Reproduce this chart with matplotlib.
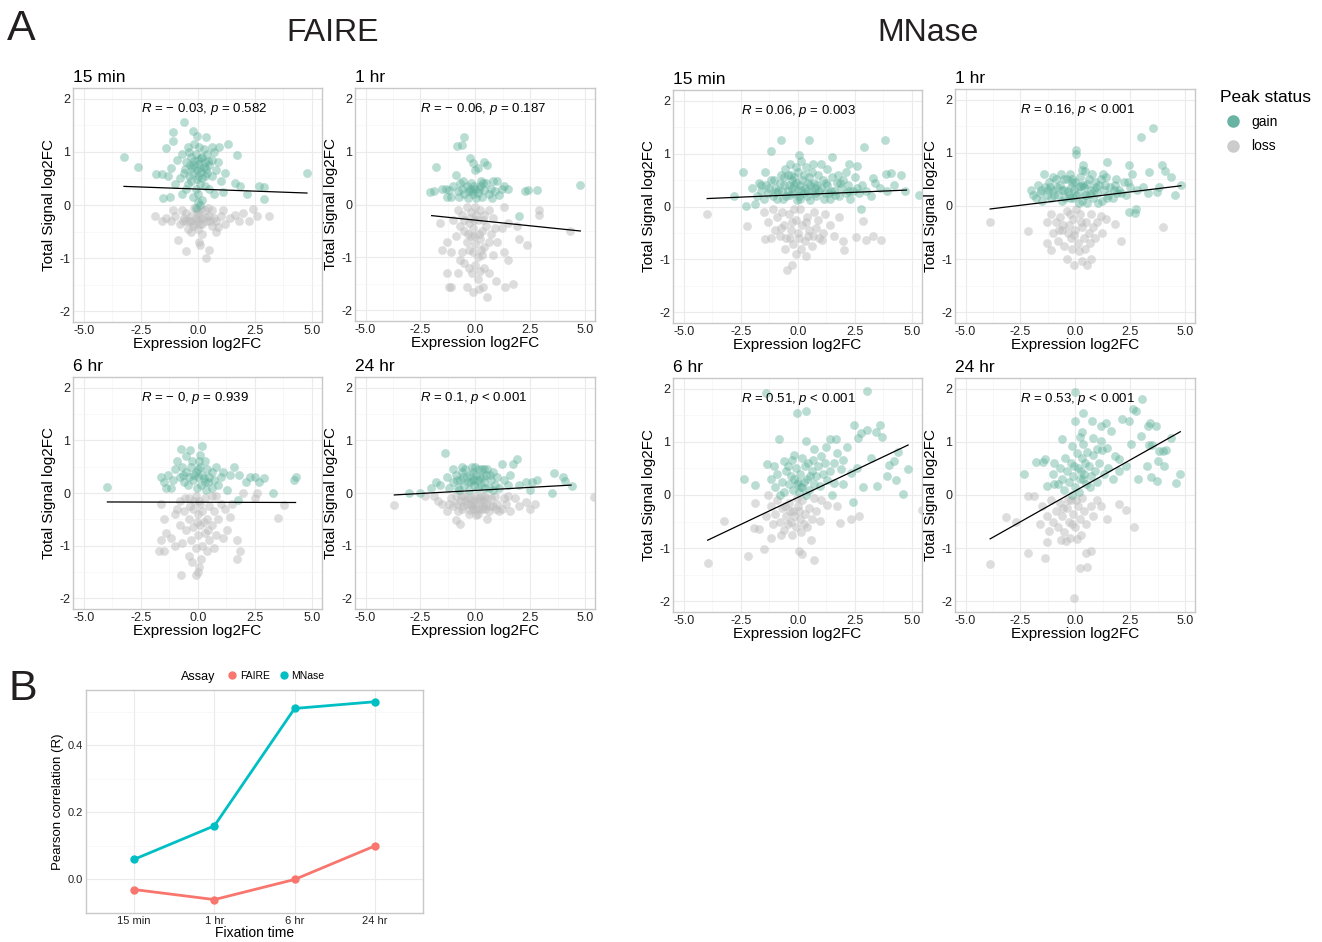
# Expression vs total signal scatter panels (A) and correlation summary (B)
import matplotlib
matplotlib.use("Agg")
import matplotlib.pyplot as plt
from matplotlib.lines import Line2D

plt.rcParams['font.family'] = ['Liberation Sans', 'DejaVu Sans']
plt.rcParams['mathtext.fontset'] = 'custom'
plt.rcParams['mathtext.rm'] = 'Liberation Sans'
plt.rcParams['mathtext.it'] = 'Liberation Sans:italic'

W, H = 1322, 942

# ---------------- data: panel A (expression log2FC, total signal log2FC) ----------------
faire_15min_gain = [(-3.24,0.91),(-2.61,0.71),(-1.83,0.59),(-1.58,0.59),(-1.41,1.07),(-1.07,1.2),(-1.11,1.37),(-0.59,1.57),
    (-0.22,1.4),(-0.04,1.29),(0.35,1.27),(0.91,1.09),(1.32,1.14),(1.74,0.94),(1.64,0.41),(1.86,0.36),(2.67,0.35),(2.89,0.33),
    (2.92,0.12),(4.79,0.6),(2.16,0.21),(-1.55,0.13),(-1.22,0.15),(-0.9,0.85),(-0.7,0.95),(-0.5,0.8),(-0.4,1.0),(-0.3,0.9),
    (-0.2,0.75),(-0.1,0.95),(0.0,0.85),(0.1,0.7),(0.2,0.9),(0.3,0.8),(0.4,0.95),(0.5,0.75),(0.6,0.85),(0.7,1.0),(-0.6,0.6),
    (-0.4,0.55),(-0.2,0.6),(0.0,0.55),(0.2,0.5),(0.4,0.6),(0.6,0.55),(0.8,0.65),(-0.8,0.5),(-0.3,0.45),(0.1,0.4),(0.3,0.35),
    (-0.1,0.3),(-0.5,0.3),(0.5,0.3),(0.0,0.2),(-0.2,0.15),(0.2,0.1),(-0.7,0.2),(0.7,0.2),(1.0,0.45),(1.2,0.6),(-1.2,0.7),
    (-1.0,0.4),(0.9,0.8),(-0.05,0.65),(0.15,0.62),(-0.25,0.7),(0.35,0.68),(0.05,1.1),(-0.15,1.15),(0.25,1.05),(0.6,1.1),
    (-0.45,1.1),(1.1,0.25),(-1.3,0.55),(0.0,0.05),(0.1,0.0),(-0.1,-0.05),(-0.35,0.75),(0.05,0.78),(0.25,0.72),(-0.15,0.82),
    (0.45,0.82),(-0.55,0.68),(0.15,0.88),(-0.05,0.48),(0.3,0.55),(-0.45,0.4)]
faire_15min_loss = [(-1.9,-0.2),(-1.58,-0.31),(-1.4,-0.25),(-1.2,-0.3),(-1.0,-0.2),(-0.8,-0.35),(-0.6,-0.25),(-0.5,-0.15),
    (-0.4,-0.3),(-0.3,-0.2),(-0.2,-0.4),(-0.1,-0.25),(0.0,-0.15),(0.1,-0.35),(0.2,-0.25),(0.3,-0.1),(0.4,-0.3),(0.5,-0.2),
    (0.6,-0.4),(0.7,-0.25),(0.8,-0.3),(1.0,-0.2),(1.2,-0.35),(1.4,-0.25),(1.64,-0.19),(1.8,-0.3),(2.23,-0.31),(2.4,-0.08),
    (2.6,-0.21),(3.11,-0.21),(-0.88,-0.65),(-0.51,-0.87),(0.03,-0.7),(0.1,-0.75),(0.35,-1.0),(0.47,-0.84),(0.81,-0.5),
    (-0.3,-0.5),(0.2,-0.55),(-0.7,-0.1),(0.0,-0.45),(-0.15,-0.05),(0.15,-0.08),(0.45,-0.05),(-0.45,-0.45),(0.6,-0.1),
    (1.1,-0.1),(-1.1,-0.1),(0.9,-0.42),(2.0,-0.15),(-0.3,-0.3),(0.0,-0.3),(0.2,-0.35),(-0.5,-0.3),(0.35,-0.22),(-0.15,-0.35),
    (0.05,-0.22),(-0.65,-0.3),(0.55,-0.3),(-0.05,-0.1)]

faire_1hr_gain = [(-1.8,0.7),(-1.9,0.25),(-2.05,0.23),(-0.5,1.27),(-0.85,1.1),(-0.6,1.12),(-0.25,0.87),(-0.1,0.78),(0.4,0.8),
    (0.55,0.75),(0.0,0.65),(0.1,0.68),(-0.9,0.55),(2.25,0.25),(2.4,0.28),(2.8,0.27),(4.78,0.37),(1.3,0.35),(1.2,0.3),(1.0,0.45),
    (2.0,-0.22),(-1.3,0.15),(-1.5,0.3),(-1.35,0.3),(-1.2,0.27),(-1.0,0.35),(-0.8,0.25),(-0.7,0.4),(-0.6,0.3),(-0.5,0.2),
    (-0.4,0.35),(-0.3,0.25),(-0.2,0.4),(-0.1,0.2),(0.0,0.3),(0.1,0.22),(0.2,0.35),(0.3,0.15),(0.4,0.28),(0.5,0.4),(0.6,0.2),
    (0.7,0.3),(0.8,0.45),(0.9,0.25),(-0.15,0.25),(0.05,0.12),(-0.35,0.12),(0.25,0.45),(-0.55,0.45),(-1.1,0.15),(0.75,0.12),
    (1.5,0.3),(-0.05,0.35),(0.15,0.3),(-0.25,0.3),(-0.75,0.15),(1.1,0.18),(0.35,0.4)]
faire_1hr_loss = [(-1.6,-0.35),(-1.5,-0.85),(-1.2,-1.55),(-1.1,-1.55),(-1.3,-1.3),(-0.8,-1.3),(-0.4,-1.55),(-0.1,-1.65),
    (0.15,-1.6),(0.35,-1.55),(0.55,-1.75),(0.95,-1.45),(1.35,-1.55),(1.7,-1.5),(1.5,-1.05),(1.3,-0.9),(2.35,-0.77),(2.0,-0.65),
    (2.9,-0.1),(2.9,-0.2),(4.3,-0.5),(1.3,-0.05),(1.5,-0.35),(1.2,-0.45),(-0.9,-0.6),(-1.3,-0.7),(-0.6,-0.9),(-0.5,-1.1),
    (-0.3,-1.2),(-0.8,-0.1),(-0.6,-0.2),(-0.4,-0.05),(-0.2,-0.15),(0.0,-0.05),(0.2,-0.1),(0.4,-0.2),(0.6,-0.1),(0.8,-0.25),
    (-0.7,-0.4),(-0.5,-0.5),(-0.3,-0.35),(-0.1,-0.45),(0.1,-0.3),(0.3,-0.5),(0.5,-0.4),(0.7,-0.55),(0.9,-0.45),(-0.4,-0.7),
    (-0.2,-0.6),(0.0,-0.75),(0.2,-0.65),(0.4,-0.8),(0.6,-0.7),(-0.1,-0.9),(0.1,-1.0),(0.3,-0.95),(-0.3,-0.85),(0.0,-1.15),
    (0.2,-1.25),(-0.15,-1.3),(0.4,-1.2),(0.1,-1.4),(-0.05,-0.3),(0.15,-0.55),(-0.25,-0.25),(0.05,-0.2),(1.0,-0.7),(-1.0,-0.3),
    (-1.1,-0.9),(0.8,-0.95),(-0.7,-1.05),(0.6,-1.3),(-0.5,-0.3),(0.35,-0.3),(1.9,-0.4),(-0.05,-0.6),(0.25,-0.85),(-0.35,-0.55)]

faire_6hr_gain = [(-3.97,0.12),(-0.75,0.83),(-0.35,0.82),(0.2,0.9),(0.1,0.72),(-0.5,0.7),(1.6,0.5),(1.8,0.35),(2.3,0.3),
    (2.5,0.3),(2.7,0.2),(2.9,0.28),(3.3,0.0),(4.2,0.25),(4.3,0.3),(1.4,0.35),(2.1,0.2),(1.3,0.05),(1.76,-0.14),(-1.6,0.3),
    (-1.5,0.2),(-1.3,0.35),(-1.1,0.25),(-1.0,0.45),(-0.8,0.3),(-0.7,0.5),(-0.6,0.2),(-0.5,0.4),(-0.4,0.3),(-0.3,0.5),
    (-0.2,0.25),(-0.1,0.4),(0.0,0.3),(0.1,0.5),(0.2,0.35),(0.3,0.2),(0.4,0.45),(0.5,0.3),(0.6,0.4),(0.7,0.25),(0.8,0.5),
    (1.0,0.3),(1.1,0.4),(-0.25,0.6),(0.05,0.6),(0.3,0.6),(-0.9,0.6),(-1.2,0.1),(0.9,0.15),(-0.45,0.15),(0.15,0.15),(0.0,0.45),
    (-0.15,0.35),(0.25,0.28),(0.45,0.2),(-0.05,0.1),(0.35,0.05),(-0.65,0.35),(0.6,0.1),(-1.4,0.1)]
faire_6hr_loss = [(-1.7,-1.1),(-1.5,-1.1),(-0.75,-1.55),(-0.1,-1.55),(0.0,-1.5),(0.05,-1.4),(1.7,-1.25),(1.85,-1.1),(1.7,-0.9),
    (1.3,-0.7),(1.4,-0.45),(2.6,0.0),(3.8,-0.22),(3.5,-0.48),(2.0,0.0),(-0.4,-1.2),(0.4,-1.1),(-1.6,-0.2),(-1.5,-0.5),
    (-1.4,-0.75),(-1.6,-0.9),(-1.2,-0.85),(-1.0,-0.4),(-1.0,-1.0),(-0.8,-0.15),(-0.8,-0.6),(-0.7,-0.95),(-0.6,-0.35),
    (-0.5,-0.7),(-0.4,-0.1),(-0.4,-0.5),(-0.3,-0.9),(-0.2,-0.3),(-0.2,-0.65),(-0.1,-0.05),(-0.1,-1.05),(0.0,-0.4),(0.0,-0.8),
    (0.1,-0.2),(0.1,-0.6),(0.2,-1.0),(0.2,-0.35),(0.3,-0.75),(0.3,-0.1),(0.4,-0.5),(0.5,-0.9),(0.5,-0.25),(0.6,-0.6),
    (0.7,-1.05),(0.7,-0.35),(0.8,-0.8),(0.9,-0.5),(1.0,-0.2),(1.1,-0.85),(1.2,-0.3),(-0.25,-1.3),(0.15,-1.25),(-0.05,-0.55),
    (0.05,-0.15),(-0.15,-0.15),(0.25,-0.55),(-0.35,-0.25),(0.45,-0.7),(0.8,-0.05),(-0.9,-0.3),(0.6,-0.05),(1.5,-0.2),
    (2.5,-0.1),(-0.55,-0.1)]

faire_24hr_gain = [(-1.4,0.75),(1.9,0.65),(1.7,0.55),(1.2,0.55),(-2.0,0.1),(-2.5,0.0),(-3.0,0.0),(2.3,0.2),(2.6,0.2),(2.8,0.25),
    (3.6,0.38),(4.0,0.3),(4.1,0.22),(4.4,0.13),(3.5,0.0),(2.5,0.05),(2.0,0.15),(-1.0,0.45),(-0.6,0.5),(0.0,0.5),(0.4,0.45),
    (-1.6,0.15),(-1.3,0.3),(-1.2,0.1),(-1.0,0.2),(-0.9,0.35),(-0.8,0.1),(-0.7,0.25),(-0.6,0.4),(-0.5,0.15),(-0.4,0.3),
    (-0.3,0.05),(-0.2,0.2),(-0.1,0.4),(0.0,0.25),(0.1,0.1),(0.2,0.3),(0.3,0.45),(0.4,0.2),(0.5,0.35),(0.6,0.1),(0.7,0.25),
    (0.8,0.4),(0.9,0.15),(1.0,0.3),(1.1,0.1),(1.3,0.25),(1.5,0.15),(-0.15,0.5),(0.15,0.45),(-0.45,0.45),(0.05,0.35),
    (-0.25,0.35),(0.25,0.15),(-0.05,0.15),(0.55,0.45),(-0.75,0.05),(1.6,0.35),(-1.8,0.2),(0.8,0.05),(-0.35,0.2),(0.35,0.3),
    (-0.55,0.3),(0.65,0.35),(0.1,0.25),(-0.1,0.25),(0.45,0.1),(-0.85,0.25)]
faire_24hr_loss = [(-3.69,-0.22),(-0.9,-0.52),(-0.7,-0.58),(0.55,-0.5),(1.2,-0.3),(1.6,-0.35),(2.3,-0.18),(2.7,-0.2),(2.5,-0.3),
    (5.4,-0.08),(-2.3,-0.05),(-1.5,-0.2),(-1.3,-0.35),(-1.9,-0.05),(-1.7,-0.15),(-1.1,-0.1),(-1.0,-0.25),(-0.9,-0.05),
    (-0.8,-0.35),(-0.7,-0.15),(-0.6,-0.3),(-0.5,-0.05),(-0.4,-0.2),(-0.3,-0.4),(-0.2,-0.1),(-0.1,-0.3),(0.0,-0.05),(0.0,-0.2),
    (0.1,-0.4),(0.2,-0.15),(0.3,-0.3),(0.4,-0.05),(0.5,-0.2),(0.6,-0.35),(0.7,-0.1),(0.8,-0.25),(0.9,-0.05),(1.0,-0.2),
    (1.1,-0.35),(1.3,-0.1),(1.4,-0.2),(1.8,-0.1),(2.0,-0.25),(-0.15,-0.25),(0.15,-0.3),(-0.35,-0.1),(0.25,-0.05),(-0.05,-0.15),
    (0.35,-0.15),(-0.55,-0.25),(0.45,-0.3),(-0.25,-0.32),(0.05,-0.42),(-1.2,-0.2),(1.5,-0.05),(-0.45,-0.15),(0.15,-0.1),
    (0.55,-0.1),(-0.85,-0.2),(0.95,-0.3),(-0.2,-0.2),(0.35,-0.25),(0.65,-0.25),(-0.65,-0.05),(0.05,-0.3)]

mnase_15min_gain = [(-2.4,0.66),(-0.73,1.25),(-1.2,1.05),(0.48,1.25),(0.07,0.98),(3.82,1.25),(2.9,1.13),(1.49,0.93),(2.23,0.8),
    (2.58,0.77),(3.86,0.62),(4.08,0.64),(4.53,0.6),(3.28,0.54),(5.32,0.21),(4.71,0.29),(-2.8,0.19),(-2.26,0.01),(-1.9,0.05),
    (2.77,-0.05),(-2.0,0.35),(-1.8,0.2),(-1.7,0.45),(-1.6,0.3),(-1.5,0.15),(-1.4,0.4),(-1.3,0.25),(-1.2,0.5),(-1.1,0.2),
    (-1.0,0.35),(-0.9,0.15),(-0.8,0.45),(-0.7,0.3),(-0.6,0.55),(-0.5,0.2),(-0.4,0.4),(-0.3,0.6),(-0.2,0.25),(-0.1,0.45),
    (0.0,0.3),(0.0,0.65),(0.1,0.15),(0.2,0.5),(0.3,0.35),(0.4,0.2),(0.5,0.55),(0.6,0.3),(0.7,0.45),(0.8,0.2),(0.9,0.6),
    (1.0,0.35),(1.1,0.5),(1.2,0.25),(1.3,0.4),(1.4,0.15),(1.5,0.55),(1.6,0.3),(1.7,0.45),(1.8,0.2),(1.9,0.35),(2.0,0.5),
    (2.1,0.25),(2.2,0.4),(2.3,0.15),(2.4,0.3),(2.5,0.55),(2.7,0.25),(2.8,0.4),(3.0,0.3),(3.2,0.2),(3.4,0.45),(3.6,0.35),
    (3.9,0.3),(4.2,0.4),(-0.35,0.8),(0.15,0.85),(-0.1,0.75),(0.35,0.75),(0.65,0.8),(-0.55,0.7),(1.0,0.8),(1.3,0.7),
    (-0.25,0.35),(0.25,0.25),(-0.65,0.15),(0.55,0.12),(-0.05,0.12),(0.75,0.35),(1.15,0.15),(-0.85,0.3),(-1.25,0.35),
    (0.45,0.45),(-0.45,0.3),(0.85,0.4),(1.45,0.3),(-0.15,0.55),(0.1,0.4),(-0.75,0.6),(1.75,0.6),(2.1,0.65),(-1.45,0.65),
    (0.05,0.2),(0.6,0.65),(-0.95,0.28),(-0.35,0.22),(0.25,0.6),(0.75,0.25),(1.25,0.45),(1.65,0.22),(-0.6,0.4),(0.4,0.3),
    (-0.15,0.4),(0.95,0.3),(2.25,0.3),(-1.05,0.5),(0.55,0.4),(1.35,0.25),(-0.25,0.5),(0.15,0.32),(1.85,0.45),(2.6,0.35),
    (-1.6,0.4),(-0.45,0.6)]
mnase_15min_loss = [(-3.98,-0.15),(-2.22,-0.36),(-1.43,-0.62),(-0.47,-1.19),(-0.25,-1.1),(-0.07,-0.9),(0.36,-0.93),
    (1.97,-0.66),(2.01,-0.83),(2.55,-0.58),(2.99,-0.63),(3.28,-0.55),(3.64,-0.63),(2.87,-0.28),(1.05,-0.64),(-1.5,-0.1),
    (-1.3,-0.3),(-1.1,-0.05),(-1.0,-0.45),(-0.9,-0.2),(-0.8,-0.55),(-0.7,-0.1),(-0.6,-0.35),(-0.5,-0.6),(-0.4,-0.15),
    (-0.3,-0.45),(-0.2,-0.7),(-0.1,-0.25),(0.0,-0.5),(0.1,-0.05),(0.2,-0.35),(0.3,-0.65),(0.4,-0.2),(0.5,-0.45),(0.6,-0.75),
    (0.7,-0.1),(0.8,-0.4),(0.9,-0.25),(1.1,-0.5),(1.2,-0.15),(1.4,-0.35),(1.6,-0.55),(-0.55,-0.8),(0.15,-0.8),(-0.25,-0.3),
    (0.35,-0.3),(0.05,-0.6),(-0.75,-0.4),(0.65,-0.55),(-0.15,-0.05),(1.8,-0.2),(-1.2,-0.6),(0.45,-0.55),(-0.35,-0.6),
    (0.95,-0.6)]

mnase_1hr_gain = [(0.03,1.06),(0.03,0.97),(2.99,1.3),(3.55,1.46),(1.42,0.82),(2.46,0.77),(3.96,0.78),(4.1,0.65),(4.37,0.54),
    (3.36,0.64),(4.82,0.4),(4.55,0.2),(3.73,0.27),(2.76,-0.05),(2.43,-0.12),(2.7,-0.13),(-1.94,0.2),(-1.42,0.61),(0.34,0.77),
    (0.3,0.67),(-2.0,0.3),(-1.8,0.15),(-1.7,0.4),(-1.6,0.25),(-1.5,0.1),(-1.4,0.35),(-1.3,0.2),(-1.2,0.45),(-1.1,0.15),
    (-1.0,0.3),(-0.9,0.5),(-0.8,0.2),(-0.7,0.4),(-0.6,0.1),(-0.5,0.3),(-0.4,0.5),(-0.3,0.2),(-0.2,0.35),(-0.1,0.15),(0.0,0.45),
    (0.1,0.25),(0.2,0.55),(0.3,0.1),(0.4,0.35),(0.5,0.2),(0.6,0.5),(0.7,0.3),(0.8,0.15),(0.9,0.45),(1.0,0.25),(1.1,0.4),
    (1.2,0.1),(1.3,0.3),(1.4,0.55),(1.5,0.2),(1.6,0.35),(1.7,0.15),(1.8,0.4),(1.9,0.25),(2.0,0.3),(2.2,0.45),(2.3,0.2),
    (2.5,0.35),(2.6,0.6),(2.8,0.3),(3.1,0.35),(3.3,0.25),(3.8,0.35),(-0.25,0.6),(0.45,0.65),(-0.65,0.6),(0.75,0.6),(1.25,0.6),
    (-1.0,0.55),(-0.05,0.3),(0.15,0.05),(-0.45,0.15),(0.55,0.05),(1.05,0.05),(-0.85,0.35),(0.35,0.4),(-0.15,0.5),(0.85,0.3),
    (1.15,0.5),(-1.25,0.3),(0.05,0.2),(-0.95,0.2),(-0.35,0.28),(0.25,0.38),(0.65,0.22),(1.35,0.4),(1.75,0.3),(-0.6,0.3),
    (0.45,0.2),(-0.15,0.45),(0.95,0.35),(2.1,0.25),(-1.15,0.35),(0.55,0.42),(1.45,0.15),(-0.25,0.15),(0.15,0.38),(1.85,0.5),
    (2.4,0.45),(-1.55,0.3),(-0.5,0.5)]
mnase_1hr_loss = [(-3.88,-0.31),(-2.16,-0.47),(-0.4,-1.0),(-0.04,-1.1),(0.3,-1.04),(0.52,-1.1),(0.72,-1.0),(2.09,-0.66),
    (4.0,-0.4),(1.79,-0.33),(1.19,-0.18),(-1.12,-0.82),(-1.27,-0.69),(-1.3,-0.3),(-1.1,-0.15),(-1.0,-0.5),(-0.9,-0.3),
    (-0.8,-0.65),(-0.7,-0.2),(-0.6,-0.45),(-0.5,-0.75),(-0.4,-0.1),(-0.3,-0.35),(-0.2,-0.6),(-0.1,-0.25),(0.0,-0.45),
    (0.1,-0.7),(0.2,-0.15),(0.3,-0.4),(0.4,-0.6),(0.5,-0.3),(0.6,-0.5),(0.7,-0.15),(0.8,-0.4),(0.9,-0.6),(1.0,-0.3),
    (1.2,-0.5),(1.4,-0.25),(-0.15,-0.8),(0.15,-0.85),(-0.55,-0.35),(0.25,-0.3),(-0.05,-0.55),(0.45,-0.8),(-0.35,-0.5),
    (-0.75,-0.45),(0.05,-0.05),(0.65,-0.7),(-0.25,-0.15)]

mnase_6hr_gain = [(-1.39,1.92),(-0.03,1.54),(0.34,1.58),(3.05,1.95),(-0.82,1.05),(2.46,1.32),(3.05,1.23),(3.59,1.31),(3.42,1.19),
    (3.71,1.09),(2.76,1.16),(2.64,1.08),(1.41,1.05),(1.66,1.05),(0.37,1.01),(1.22,0.91),(2.17,0.9),(4.4,0.8),(4.22,0.64),
    (4.0,0.57),(4.84,0.48),(3.93,0.36),(4.3,0.29),(3.46,0.16),(2.84,0.15),(4.63,0.02),(2.43,-0.13),(-2.35,0.3),(-1.86,0.18),
    (-1.06,0.54),(-1.35,0.58),(-0.62,0.64),(-0.18,0.76),(0.19,0.69),(0.7,0.86),(1.0,0.73),(1.73,0.79),(1.99,0.66),(2.32,0.41),
    (1.88,0.48),(1.58,0.23),(1.28,0.29),(0.99,0.16),(-1.2,0.3),(-1.0,0.15),(-0.9,0.4),(-0.7,0.25),(-0.6,0.05),(-0.5,0.45),
    (-0.4,0.2),(-0.3,0.35),(-0.2,0.1),(-0.1,0.5),(0.0,0.25),(0.1,0.4),(0.2,0.15),(0.3,0.55),(0.4,0.3),(0.5,0.1),(0.6,0.45),
    (0.7,0.2),(0.8,0.35),(0.9,0.55),(1.1,0.4),(1.2,0.6),(1.4,0.45),(1.6,0.6),(0.05,0.05),(-0.15,0.3),(0.25,0.25),(0.45,0.6),
    (-0.45,0.55),(0.15,0.15),(-0.05,0.2),(0.55,0.35),(-0.25,0.65),(0.65,0.65),(-0.8,0.0),(0.35,0.0),(1.5,0.0),(2.0,0.2),
    (2.6,0.5),(3.2,0.7)]
mnase_6hr_loss = [(-3.96,-1.28),(-3.23,-0.49),(-2.2,-1.14),(-1.5,-1.01),(-1.17,-0.81),(0.04,-1.05),(0.19,-1.11),(0.7,-1.22),
    (0.56,-0.85),(1.85,-0.52),(2.68,-0.39),(2.32,-0.46),(5.47,-0.29),(1.73,-0.2),(1.29,-0.18),(0.97,-0.48),(-1.94,-0.62),
    (-1.72,-0.64),(-1.86,-0.15),(-1.4,-0.4),(-1.2,-0.2),(-1.1,-0.55),(-1.0,-0.35),(-0.9,-0.1),(-0.8,-0.5),(-0.7,-0.25),
    (-0.6,-0.65),(-0.5,-0.4),(-0.4,-0.15),(-0.3,-0.5),(-0.2,-0.3),(-0.1,-0.6),(0.0,-0.2),(0.1,-0.45),(0.2,-0.1),(0.3,-0.35),
    (0.4,-0.6),(0.5,-0.25),(0.6,-0.45),(0.8,-0.3),(1.0,-0.1),(-0.35,-0.3),(-0.15,-0.4),(0.05,-0.3),(-0.55,-0.2),(0.25,-0.55),
    (-0.25,-0.75),(-0.75,-0.75),(0.15,-0.7),(-0.05,-0.05),(-1.3,0.0),(0.7,-0.05),(-0.45,-0.55)]

mnase_24hr_gain = [(0.0,1.94),(0.33,1.54),(0.0,1.39),(0.78,1.4),(1.19,1.29),(1.39,1.35),(1.64,1.2),(2.13,1.43),(2.43,1.4),
    (2.64,1.61),(2.76,1.58),(3.03,1.8),(2.99,1.11),(3.39,1.36),(3.3,1.3),(3.69,1.3),(3.36,0.94),(3.5,0.94),(3.81,0.82),
    (3.99,0.82),(4.13,0.85),(3.78,0.64),(4.03,0.54),(4.37,1.07),(4.78,0.4),(4.58,0.22),(3.7,0.27),(3.28,0.54),(3.43,0.33),
    (2.84,0.31),(2.54,0.96),(-2.34,0.4),(-1.79,0.62),(-1.49,0.62),(-1.37,0.68),(-0.6,1.05),(0.3,1.18),(0.22,1.09),(0.37,0.96),
    (0.82,1.07),(1.19,1.01),(-0.15,0.92),(0.07,0.79),(0.97,0.86),(1.42,0.89),(1.79,0.73),(2.01,0.67),(2.31,0.54),(-0.97,0.61),
    (-1.27,0.16),(-0.97,0.2),(-1.0,0.4),(-0.8,0.2),(-0.7,0.5),(-0.6,0.3),(-0.5,0.1),(-0.4,0.45),(-0.3,0.25),(-0.2,0.6),
    (-0.1,0.35),(0.0,0.15),(0.1,0.5),(0.2,0.3),(0.3,0.7),(0.4,0.4),(0.5,0.2),(0.6,0.55),(0.7,0.35),(0.8,0.75),(0.9,0.45),
    (1.0,0.25),(1.1,0.6),(1.3,0.4),(1.5,0.5),(1.7,0.3),(2.0,0.45),(0.15,0.05),(-0.15,0.0),(0.45,0.6),(0.25,0.45),(-0.05,0.55),
    (0.55,0.8),(0.35,0.3),(-0.45,0.7),(0.65,0.15),(1.2,0.85)]
mnase_24hr_loss = [(-3.88,-1.29),(-3.18,-0.42),(-2.69,-0.5),(-2.16,-1.1),(-1.37,-1.18),(-1.27,-0.89),(-1.19,-0.68),(-0.07,-1.93),
    (0.19,-1.38),(0.55,-1.36),(0.48,-1.09),(0.7,-1.06),(0.07,-0.83),(-0.42,-0.87),(1.42,-0.46),(1.19,-0.21),(1.99,-0.16),
    (2.31,-0.29),(2.66,-0.6),(-2.16,-0.02),(-1.87,-0.02),(-1.5,-0.2),(-1.3,-0.4),(-1.1,-0.1),(-1.0,-0.5),(-0.9,-0.3),
    (-0.8,-0.6),(-0.7,-0.15),(-0.6,-0.4),(-0.5,-0.7),(-0.4,-0.25),(-0.3,-0.5),(-0.2,-0.1),(-0.1,-0.35),(0.0,-0.6),(0.1,-0.2),
    (0.2,-0.45),(0.3,-0.05),(0.4,-0.3),(0.5,-0.55),(0.7,-0.2),(0.8,-0.4),(1.0,-0.1),(-0.35,-0.1),(-0.15,-0.55),(0.05,-0.1),
    (-0.55,-0.25),(0.25,-0.75),(-0.25,-0.8),(-0.65,-0.85),(-1.6,-0.55)]

# fitted regression lines: (x_start, y_start, x_end, y_end)
fit_lines = [(-3.24,0.35,4.79,0.225), (-1.99,-0.21,4.78,-0.50), (-3.98,0.15,4.77,0.31), (-3.88,-0.056,4.81,0.38),
             (-3.97,-0.17,4.29,-0.18), (-3.69,-0.037,4.36,0.15), (-3.96,-0.85,4.84,0.94), (-3.88,-0.825,4.78,1.19)]
stat_labels = ["$R$ = \u2212 0.03, $p$ = 0.582", "$R$ = \u2212 0.06, $p$ = 0.187",
               "$R$ = 0.06, $p$ = 0.003", "$R$ = 0.16, $p$ < 0.001",
               "$R$ = \u2212 0, $p$ = 0.939", "$R$ = 0.1, $p$ < 0.001",
               "$R$ = 0.51, $p$ < 0.001", "$R$ = 0.53, $p$ < 0.001"]
panel_titles = ["15 min", "1 hr", "15 min", "1 hr", "6 hr", "24 hr", "6 hr", "24 hr"]
gain_sets = [faire_15min_gain, faire_1hr_gain, mnase_15min_gain, mnase_1hr_gain,
             faire_6hr_gain, faire_24hr_gain, mnase_6hr_gain, mnase_24hr_gain]
loss_sets = [faire_15min_loss, faire_1hr_loss, mnase_15min_loss, mnase_1hr_loss,
             faire_6hr_loss, faire_24hr_loss, mnase_6hr_loss, mnase_24hr_loss]

# ---------------- data: panel B ----------------
fix_times = ["15 min", "1 hr", "6 hr", "24 hr"]
faire_r = [-0.03, -0.06, 0.00, 0.10]
mnase_r = [0.06, 0.16, 0.51, 0.53]

GAIN = "#5aae98"
LOSS = "#bdbdbd"

# panel boxes in pixels (left, top, right, bottom)
boxes = [(73,88,322,322), (355,88,595,321), (673,90,922,323), (955,89,1195,323),
         (73,377,322,609), (355,377,595,609), (673,378,922,612), (955,378,1195,612)]


def rect(l, t, r, b):
    return [l / W, 1 - b / H, (r - l) / W, (b - t) / H]


def style_axes(ax):
    for s in ax.spines.values():
        s.set_color("#c8c8c8")
        s.set_linewidth(1.0)
    ax.grid(True, which="major", color="#ebebeb", lw=0.8)
    ax.grid(True, which="minor", color="#f5f5f5", lw=0.5)
    ax.set_axisbelow(True)
    ax.tick_params(which="both", length=0, colors="#222222", pad=2)


fig = plt.figure(figsize=(W / 100, H / 100), dpi=100)

for i in range(8):
    ax = fig.add_axes(rect(*boxes[i]))
    loss = loss_sets[i]
    gain = gain_sets[i]
    ax.scatter([p[0] for p in loss], [p[1] for p in loss], s=40, color=LOSS, alpha=0.5, lw=0)
    ax.scatter([p[0] for p in gain], [p[1] for p in gain], s=40, color=GAIN, alpha=0.42, lw=0)
    x0, y0, x1, y1 = fit_lines[i]
    ax.plot([x0, x1], [y0, y1], color="black", lw=0.9)
    ax.text(-2.5, 1.8, stat_labels[i], ha="left", va="center", fontsize=9.5)
    ax.set_xlim(-5.48, 5.45)
    ax.set_ylim(-2.2, 2.2)
    ax.set_xticks([-5, -2.5, 0, 2.5, 5])
    ax.set_xticklabels(["-5.0", "-2.5", "0.0", "2.5", "5.0"], fontsize=9)
    ax.set_xticks([-3.75, -1.25, 1.25, 3.75], minor=True)
    ax.set_yticks([-2, -1, 0, 1, 2])
    ax.set_yticklabels(["-2", "-1", "0", "1", "2"], fontsize=9)
    ax.set_yticks([-1.5, -0.5, 0.5, 1.5], minor=True)
    style_axes(ax)
    ax.set_xlabel("Expression log2FC", fontsize=11, labelpad=0)
    ax.set_ylabel("Total Signal log2FC", fontsize=11, labelpad=2)
    ax.set_title(panel_titles[i], loc="left", fontsize=12.5, pad=4)

# headings
fig.text(7 / W, 1 - 40 / H, "A", fontsize=31, color="#231f20")
fig.text(333 / W, 1 - 41 / H, "FAIRE", fontsize=23, ha="center", color="#231f20")
fig.text(928 / W, 1 - 41 / H, "MNase", fontsize=23, ha="center", color="#231f20")
fig.text(8 / W, 1 - 700 / H, "B", fontsize=31, color="#231f20")

# peak status legend
handles = [Line2D([], [], ls="", marker="o", ms=8, color="#69b3a2"),
           Line2D([], [], ls="", marker="o", ms=8, color="#cccccc")]
leg = fig.legend(handles, ["gain", "loss"], title="Peak status", loc="upper left",
                 bbox_to_anchor=(1214 / W, 1 - 84 / H), frameon=False, fontsize=10,
                 title_fontsize=12.5, handletextpad=0.3, labelspacing=0.75, borderaxespad=0)
leg._legend_box.align = "left"

# ---------------- panel B ----------------
axb = fig.add_axes(rect(86, 690, 423, 913))
pos = list(range(1, len(fix_times) + 1))
axb.plot(pos, faire_r, color="#F8766D", lw=2, marker="o", ms=5, label="FAIRE")
axb.plot(pos, mnase_r, color="#00BFC4", lw=2, marker="o", ms=5, label="MNase")
axb.set_xlim(0.4, 4.6)
axb.set_ylim(-0.091, 0.565)
axb.set_xticks(pos)
axb.set_xticklabels(fix_times, fontsize=8)
axb.set_yticks([0.0, 0.2, 0.4])
axb.set_yticklabels(["0.0", "0.2", "0.4"], fontsize=8)
axb.set_yticks([-0.1, 0.1, 0.3, 0.5], minor=True)
style_axes(axb)
axb.grid(False, which="minor", axis="x")
axb.set_xlabel("Fixation time", fontsize=10, labelpad=0)
axb.set_ylabel("Pearson correlation (R)", fontsize=9.5, labelpad=3)

fig.text(198 / W, 1 - 677 / H, "Assay", fontsize=9, ha="center", va="center")
bh = [Line2D([], [], ls="", marker="o", ms=5, color="#F8766D"),
      Line2D([], [], ls="", marker="o", ms=5, color="#00BFC4")]
fig.legend(bh, ["FAIRE", "MNase"], loc="center left", bbox_to_anchor=(222 / W, 1 - 676 / H),
           ncol=2, frameon=False, fontsize=7.5, handletextpad=0.1, columnspacing=0.8,
           borderaxespad=0, handlelength=1.2)

fig.savefig("out.png", dpi=100)
